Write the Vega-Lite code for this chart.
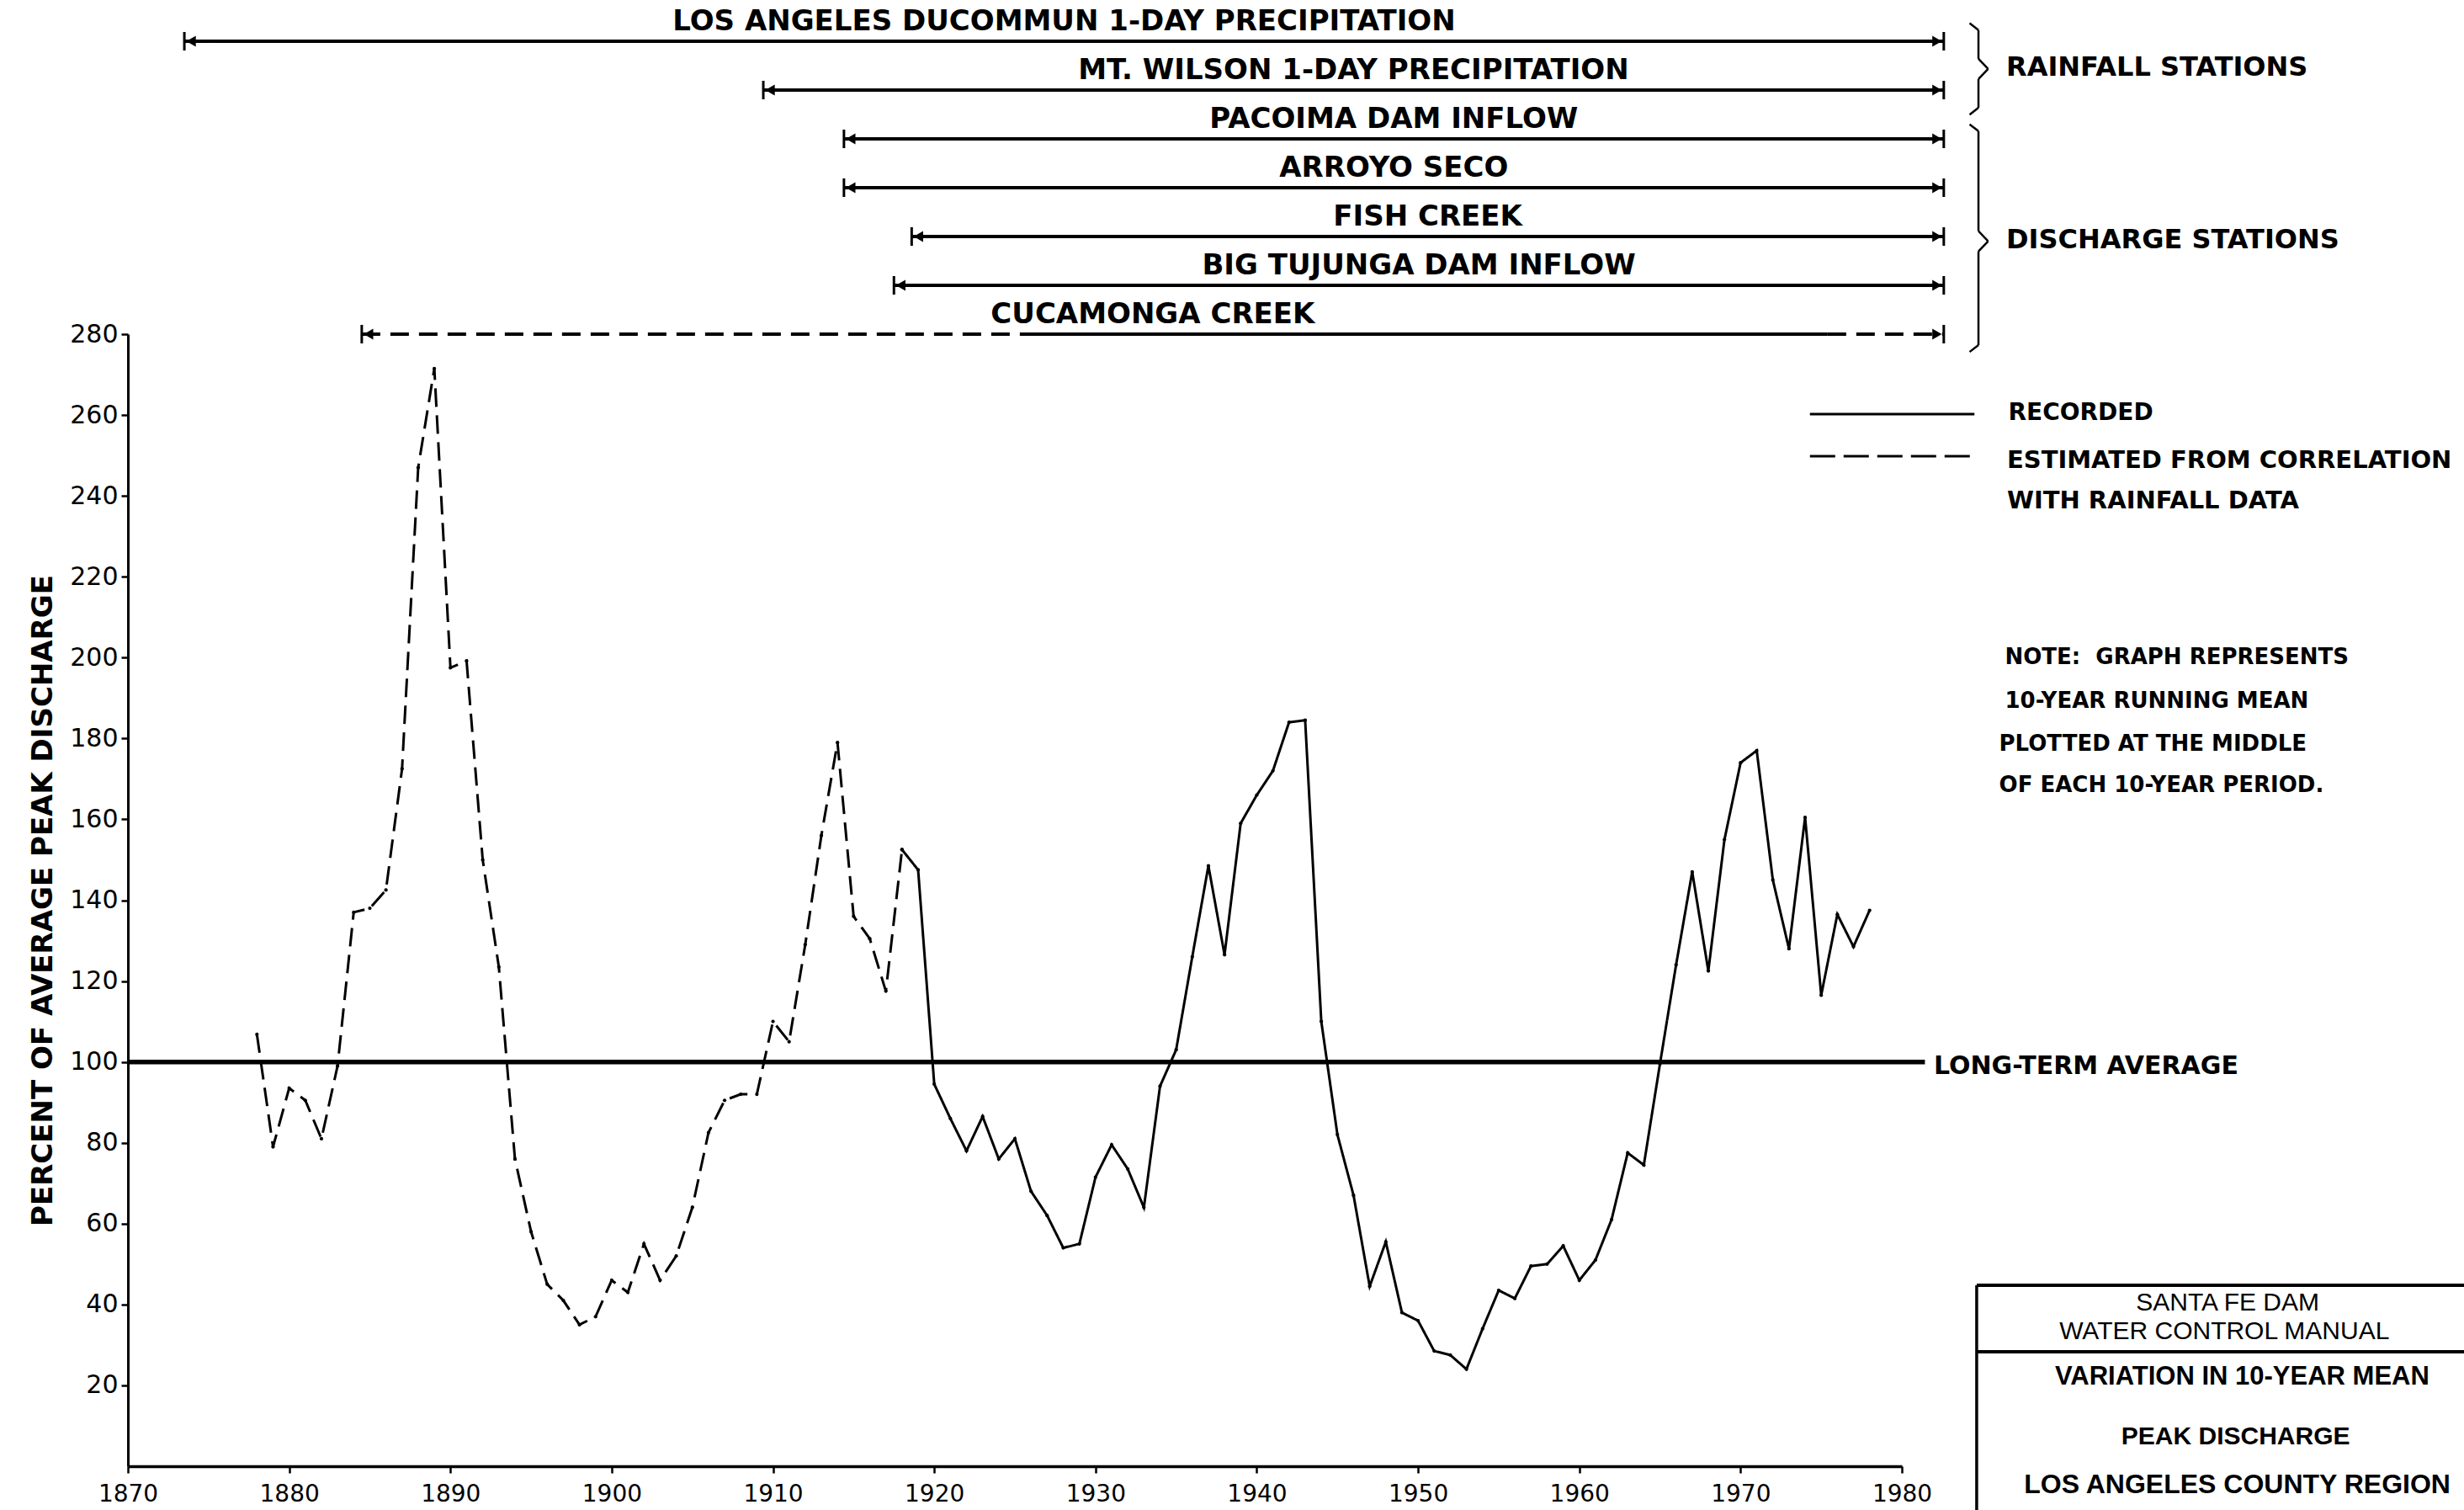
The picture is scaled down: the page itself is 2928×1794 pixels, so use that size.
{
  "$schema": "https://vega.github.io/schema/vega-lite/v6.json",
  "width": 2108,
  "height": 1345,
  "autosize": {"type": "none"},
  "padding": {"left": 152, "top": 397, "right": 668, "bottom": 52},
  "background": "white",
  "config": {
    "view": {"stroke": null},
    "font": "DejaVu Sans",
    "axis": {"labelColor": "black", "domainColor": "black", "tickColor": "black", "titleColor": "black", "grid": false}
  },
  "datasets": {
    "series": [
      {"year": 1878, "value": 106.8, "kind": "estimated"},
      {"year": 1879, "value": 79, "kind": "estimated"},
      {"year": 1880, "value": 93.5, "kind": "estimated"},
      {"year": 1881, "value": 90.5, "kind": "estimated"},
      {"year": 1882, "value": 81, "kind": "estimated"},
      {"year": 1883, "value": 99, "kind": "estimated"},
      {"year": 1884, "value": 137, "kind": "estimated"},
      {"year": 1885, "value": 138, "kind": "estimated"},
      {"year": 1886, "value": 142.5, "kind": "estimated"},
      {"year": 1887, "value": 172.5, "kind": "estimated"},
      {"year": 1888, "value": 247, "kind": "estimated"},
      {"year": 1889, "value": 271.5, "kind": "estimated"},
      {"year": 1890, "value": 197.5, "kind": "estimated"},
      {"year": 1891, "value": 199.2, "kind": "estimated"},
      {"year": 1892, "value": 150, "kind": "estimated"},
      {"year": 1893, "value": 123.5, "kind": "estimated"},
      {"year": 1894, "value": 76, "kind": "estimated"},
      {"year": 1895, "value": 58, "kind": "estimated"},
      {"year": 1896, "value": 45, "kind": "estimated"},
      {"year": 1897, "value": 41, "kind": "estimated"},
      {"year": 1898, "value": 35, "kind": "estimated"},
      {"year": 1899, "value": 37, "kind": "estimated"},
      {"year": 1900, "value": 46, "kind": "estimated"},
      {"year": 1901, "value": 43, "kind": "estimated"},
      {"year": 1902, "value": 55, "kind": "estimated"},
      {"year": 1903, "value": 46, "kind": "estimated"},
      {"year": 1904, "value": 52, "kind": "estimated"},
      {"year": 1905, "value": 64, "kind": "estimated"},
      {"year": 1906, "value": 82.5, "kind": "estimated"},
      {"year": 1907, "value": 90.5, "kind": "estimated"},
      {"year": 1908, "value": 92, "kind": "estimated"},
      {"year": 1909, "value": 92, "kind": "estimated"},
      {"year": 1910, "value": 110, "kind": "estimated"},
      {"year": 1911, "value": 105, "kind": "estimated"},
      {"year": 1912, "value": 129, "kind": "estimated"},
      {"year": 1913, "value": 156, "kind": "estimated"},
      {"year": 1914, "value": 179, "kind": "estimated"},
      {"year": 1915, "value": 136, "kind": "estimated"},
      {"year": 1916, "value": 130.5, "kind": "estimated"},
      {"year": 1917, "value": 117.5, "kind": "estimated"},
      {"year": 1918, "value": 152.5, "kind": "estimated"},
      {"year": 1918, "value": 152.5, "kind": "recorded"},
      {"year": 1919, "value": 147.5, "kind": "recorded"},
      {"year": 1920, "value": 94.5, "kind": "recorded"},
      {"year": 1921, "value": 86, "kind": "recorded"},
      {"year": 1922, "value": 78, "kind": "recorded"},
      {"year": 1923, "value": 86.5, "kind": "recorded"},
      {"year": 1924, "value": 76, "kind": "recorded"},
      {"year": 1925, "value": 81, "kind": "recorded"},
      {"year": 1926, "value": 68, "kind": "recorded"},
      {"year": 1927, "value": 62, "kind": "recorded"},
      {"year": 1928, "value": 54, "kind": "recorded"},
      {"year": 1929, "value": 55, "kind": "recorded"},
      {"year": 1930, "value": 71.5, "kind": "recorded"},
      {"year": 1931, "value": 79.5, "kind": "recorded"},
      {"year": 1932, "value": 73.5, "kind": "recorded"},
      {"year": 1933, "value": 64, "kind": "recorded"},
      {"year": 1934, "value": 94, "kind": "recorded"},
      {"year": 1935, "value": 103, "kind": "recorded"},
      {"year": 1936, "value": 126, "kind": "recorded"},
      {"year": 1937, "value": 148.5, "kind": "recorded"},
      {"year": 1938, "value": 126.5, "kind": "recorded"},
      {"year": 1939, "value": 159, "kind": "recorded"},
      {"year": 1940, "value": 166, "kind": "recorded"},
      {"year": 1941, "value": 172, "kind": "recorded"},
      {"year": 1942, "value": 184, "kind": "recorded"},
      {"year": 1943, "value": 184.5, "kind": "recorded"},
      {"year": 1944, "value": 110, "kind": "recorded"},
      {"year": 1945, "value": 82, "kind": "recorded"},
      {"year": 1946, "value": 67, "kind": "recorded"},
      {"year": 1947, "value": 44.5, "kind": "recorded"},
      {"year": 1948, "value": 55.5, "kind": "recorded"},
      {"year": 1949, "value": 38, "kind": "recorded"},
      {"year": 1950, "value": 36, "kind": "recorded"},
      {"year": 1951, "value": 28.5, "kind": "recorded"},
      {"year": 1952, "value": 27.5, "kind": "recorded"},
      {"year": 1953, "value": 24, "kind": "recorded"},
      {"year": 1954, "value": 34, "kind": "recorded"},
      {"year": 1955, "value": 43.5, "kind": "recorded"},
      {"year": 1956, "value": 41.5, "kind": "recorded"},
      {"year": 1957, "value": 49.5, "kind": "recorded"},
      {"year": 1958, "value": 50, "kind": "recorded"},
      {"year": 1959, "value": 54.5, "kind": "recorded"},
      {"year": 1960, "value": 46, "kind": "recorded"},
      {"year": 1961, "value": 51, "kind": "recorded"},
      {"year": 1962, "value": 61, "kind": "recorded"},
      {"year": 1963, "value": 77.5, "kind": "recorded"},
      {"year": 1964, "value": 74.5, "kind": "recorded"},
      {"year": 1965, "value": 99.5, "kind": "recorded"},
      {"year": 1966, "value": 124, "kind": "recorded"},
      {"year": 1967, "value": 147, "kind": "recorded"},
      {"year": 1968, "value": 122.5, "kind": "recorded"},
      {"year": 1969, "value": 155, "kind": "recorded"},
      {"year": 1970, "value": 174, "kind": "recorded"},
      {"year": 1971, "value": 177, "kind": "recorded"},
      {"year": 1972, "value": 145, "kind": "recorded"},
      {"year": 1973, "value": 128, "kind": "recorded"},
      {"year": 1974, "value": 160.5, "kind": "recorded"},
      {"year": 1975, "value": 116.5, "kind": "recorded"},
      {"year": 1976, "value": 136.5, "kind": "recorded"},
      {"year": 1977, "value": 128.5, "kind": "recorded"},
      {"year": 1978, "value": 137.5, "kind": "recorded"}
    ],
    "stations": [
      {"station": "LOS ANGELES DUCOMMUN 1-DAY PRECIPITATION", "start": 1873.5, "end": 1982.6},
      {"station": "MT. WILSON 1-DAY PRECIPITATION", "start": 1909.4, "end": 1982.6},
      {"station": "PACOIMA DAM INFLOW", "start": 1914.4, "end": 1982.6},
      {"station": "ARROYO SECO", "start": 1914.4, "end": 1982.6},
      {"station": "FISH CREEK", "start": 1918.6, "end": 1982.6},
      {"station": "BIG TUJUNGA DAM INFLOW", "start": 1917.5, "end": 1982.6},
      {"station": "CUCAMONGA CREEK", "start": 1884.5, "end": 1982.6}
    ],
    "segments": [
      {"station": "LOS ANGELES DUCOMMUN 1-DAY PRECIPITATION", "start": 1873.5, "end": 1982.6, "kind": "recorded"},
      {"station": "MT. WILSON 1-DAY PRECIPITATION", "start": 1909.4, "end": 1982.6, "kind": "recorded"},
      {"station": "PACOIMA DAM INFLOW", "start": 1914.4, "end": 1982.6, "kind": "recorded"},
      {"station": "ARROYO SECO", "start": 1914.4, "end": 1982.6, "kind": "recorded"},
      {"station": "FISH CREEK", "start": 1918.6, "end": 1982.6, "kind": "recorded"},
      {"station": "BIG TUJUNGA DAM INFLOW", "start": 1917.5, "end": 1982.6, "kind": "recorded"},
      {"station": "CUCAMONGA CREEK", "start": 1884.5, "end": 1926.2, "kind": "estimated"},
      {"station": "CUCAMONGA CREEK", "start": 1926.2, "end": 1975.4, "kind": "recorded"},
      {"station": "CUCAMONGA CREEK", "start": 1975.4, "end": 1982.6, "kind": "estimated"}
    ]
  },
  "resolve": {"scale": {"y": "independent", "strokeDash": "independent"}},
  "layer": [
    {
      "layer": [
        {
          "data": {"name": "series"},
          "mark": {"type": "line", "clip": false, "strokeWidth": 3, "color": "black"},
          "encoding": {
            "x": {"field": "year", "type": "quantitative", "scale": {"domain": [1870, 1980], "nice": false, "zero": false},
              "axis": {"values": [1870, 1880, 1890, 1900, 1910, 1920, 1930, 1940, 1950, 1960, 1970, 1980], "format": "d", "title": null, "labelFont": "DejaVu Sans", "labelFontSize": 28, "tickSize": 8, "tickWidth": 2.5, "domainWidth": 3.5, "labelPadding": 11, "labelFlush": false}},
            "y": {"field": "value", "type": "quantitative", "scale": {"domain": [0, 280], "nice": false, "zero": false},
              "axis": {"values": [20, 40, 60, 80, 100, 120, 140, 160, 180, 200, 220, 240, 260, 280], "format": "d", "title": "PERCENT OF AVERAGE PEAK DISCHARGE", "titleFont": "DejaVu Sans", "titleFontWeight": "bold", "titleFontSize": 34, "titlePadding": 14, "labelFont": "DejaVu Sans", "labelFontSize": 30, "tickSize": 8, "tickWidth": 2.5, "domainWidth": 3, "labelPadding": 4}},
            "strokeDash": {"field": "kind", "type": "nominal", "scale": {"domain": ["recorded", "estimated"], "range": [[1, 0], [22, 10]]}, "legend": null}
          }
        },
        {
          "data": {"name": "series"},
          "mark": {"type": "point", "clip": false, "filled": true, "size": 18, "color": "black", "opacity": 1},
          "encoding": {
            "x": {"field": "year", "type": "quantitative", "scale": {"domain": [1870, 1980], "nice": false, "zero": false}},
            "y": {"field": "value", "type": "quantitative", "scale": {"domain": [0, 280], "nice": false, "zero": false}}
          }
        },
        {
          "data": {"values": [{}]},
          "mark": {"type": "rule", "clip": false, "strokeWidth": 5.5, "color": "black"},
          "encoding": {
            "x": {"datum": 1870, "type": "quantitative", "scale": {"domain": [1870, 1980], "nice": false, "zero": false}},
            "x2": {"datum": 1981.43},
            "y": {"datum": 100, "type": "quantitative", "scale": {"domain": [0, 280], "nice": false, "zero": false}}
          }
        },
        {
          "data": {"values": [{}]},
          "mark": {"type": "text", "clip": false, "font": "DejaVu Sans", "fontWeight": "bold", "fontSize": 30, "align": "left", "baseline": "middle", "color": "black"},
          "encoding": {
            "x": {"datum": 1981.98, "type": "quantitative", "scale": {"domain": [1870, 1980], "nice": false, "zero": false}},
            "y": {"datum": 98.9, "type": "quantitative", "scale": {"domain": [0, 280], "nice": false, "zero": false}},
            "text": {"value": "LONG-TERM AVERAGE"}
          }
        },
        {
          "data": {"values": [{}]},
          "mark": {"type": "rule", "clip": false, "strokeWidth": 3, "color": "black"},
          "encoding": {
            "x": {"datum": 1974.3, "type": "quantitative", "scale": {"domain": [1870, 1980], "nice": false, "zero": false}},
            "x2": {"datum": 1984.5},
            "y": {"datum": 260.2, "type": "quantitative", "scale": {"domain": [0, 280], "nice": false, "zero": false}}
          }
        },
        {
          "data": {"values": [{}]},
          "mark": {"type": "rule", "clip": false, "strokeWidth": 3, "color": "black", "strokeDash": [30, 10]},
          "encoding": {
            "x": {"datum": 1974.3, "type": "quantitative", "scale": {"domain": [1870, 1980], "nice": false, "zero": false}},
            "x2": {"datum": 1984.6},
            "y": {"datum": 249.8, "type": "quantitative", "scale": {"domain": [0, 280], "nice": false, "zero": false}}
          }
        },
        {
          "data": {"values": [{}]},
          "mark": {"type": "text", "clip": false, "font": "DejaVu Sans", "fontWeight": "bold", "fontSize": 28, "align": "left", "baseline": "middle", "color": "black"},
          "encoding": {
            "x": {"datum": 1986.6, "type": "quantitative", "scale": {"domain": [1870, 1980], "nice": false, "zero": false}},
            "y": {"datum": 260.5, "type": "quantitative", "scale": {"domain": [0, 280], "nice": false, "zero": false}},
            "text": {"value": "RECORDED"}
          }
        },
        {
          "data": {"values": [{}]},
          "mark": {"type": "text", "clip": false, "font": "DejaVu Sans", "fontWeight": "bold", "fontSize": 29, "align": "left", "baseline": "middle", "color": "black"},
          "encoding": {
            "x": {"datum": 1986.52, "type": "quantitative", "scale": {"domain": [1870, 1980], "nice": false, "zero": false}},
            "y": {"datum": 248.7, "type": "quantitative", "scale": {"domain": [0, 280], "nice": false, "zero": false}},
            "text": {"value": "ESTIMATED FROM CORRELATION"}
          }
        },
        {
          "data": {"values": [{}]},
          "mark": {"type": "text", "clip": false, "font": "DejaVu Sans", "fontWeight": "bold", "fontSize": 29, "align": "left", "baseline": "middle", "color": "black"},
          "encoding": {
            "x": {"datum": 1986.52, "type": "quantitative", "scale": {"domain": [1870, 1980], "nice": false, "zero": false}},
            "y": {"datum": 238.8, "type": "quantitative", "scale": {"domain": [0, 280], "nice": false, "zero": false}},
            "text": {"value": "WITH RAINFALL DATA"}
          }
        },
        {
          "data": {"values": [{}]},
          "mark": {"type": "text", "clip": false, "font": "DejaVu Sans", "fontWeight": "bold", "fontSize": 26, "align": "left", "baseline": "middle", "color": "black"},
          "encoding": {
            "x": {"datum": 1986.39, "type": "quantitative", "scale": {"domain": [1870, 1980], "nice": false, "zero": false}},
            "y": {"datum": 200.1, "type": "quantitative", "scale": {"domain": [0, 280], "nice": false, "zero": false}},
            "text": {"value": "NOTE:\u00a0\u00a0GRAPH REPRESENTS"}
          }
        },
        {
          "data": {"values": [{}]},
          "mark": {"type": "text", "clip": false, "font": "DejaVu Sans", "fontWeight": "bold", "fontSize": 26, "align": "left", "baseline": "middle", "color": "black"},
          "encoding": {
            "x": {"datum": 1986.39, "type": "quantitative", "scale": {"domain": [1870, 1980], "nice": false, "zero": false}},
            "y": {"datum": 189.2, "type": "quantitative", "scale": {"domain": [0, 280], "nice": false, "zero": false}},
            "text": {"value": "10-YEAR RUNNING MEAN"}
          }
        },
        {
          "data": {"values": [{}]},
          "mark": {"type": "text", "clip": false, "font": "DejaVu Sans", "fontWeight": "bold", "fontSize": 26, "align": "left", "baseline": "middle", "color": "black"},
          "encoding": {
            "x": {"datum": 1986.03, "type": "quantitative", "scale": {"domain": [1870, 1980], "nice": false, "zero": false}},
            "y": {"datum": 178.6, "type": "quantitative", "scale": {"domain": [0, 280], "nice": false, "zero": false}},
            "text": {"value": "PLOTTED AT THE MIDDLE"}
          }
        },
        {
          "data": {"values": [{}]},
          "mark": {"type": "text", "clip": false, "font": "DejaVu Sans", "fontWeight": "bold", "fontSize": 26, "align": "left", "baseline": "middle", "color": "black"},
          "encoding": {
            "x": {"datum": 1986.03, "type": "quantitative", "scale": {"domain": [1870, 1980], "nice": false, "zero": false}},
            "y": {"datum": 168.5, "type": "quantitative", "scale": {"domain": [0, 280], "nice": false, "zero": false}},
            "text": {"value": "OF EACH 10-YEAR PERIOD."}
          }
        },
        {
          "data": {"values": [{}]},
          "mark": {"type": "rule", "clip": false, "strokeWidth": 4, "color": "black"},
          "encoding": {
            "x": {"datum": 1984.64, "type": "quantitative", "scale": {"domain": [1870, 1980], "nice": false, "zero": false}},
            "x2": {"datum": 2020},
            "y": {"datum": 44.75, "type": "quantitative", "scale": {"domain": [0, 280], "nice": false, "zero": false}}
          }
        },
        {
          "data": {"values": [{}]},
          "mark": {"type": "rule", "clip": false, "strokeWidth": 4, "color": "black"},
          "encoding": {
            "x": {"datum": 1984.64, "type": "quantitative", "scale": {"domain": [1870, 1980], "nice": false, "zero": false}},
            "x2": {"datum": 2020},
            "y": {"datum": 28.3, "type": "quantitative", "scale": {"domain": [0, 280], "nice": false, "zero": false}}
          }
        },
        {
          "data": {"values": [{}]},
          "mark": {"type": "rule", "clip": false, "strokeWidth": 3.5, "color": "black"},
          "encoding": {
            "x": {"datum": 1984.64, "type": "quantitative", "scale": {"domain": [1870, 1980], "nice": false, "zero": false}},
            "y": {"datum": 44.75, "type": "quantitative", "scale": {"domain": [0, 280], "nice": false, "zero": false}},
            "y2": {"datum": -12}
          }
        },
        {
          "data": {"values": [{}]},
          "mark": {"type": "text", "clip": false, "font": "Liberation Sans", "fontSize": 30, "align": "center", "baseline": "middle", "color": "black"},
          "encoding": {
            "x": {"datum": 2000.2, "type": "quantitative", "scale": {"domain": [1870, 1980], "nice": false, "zero": false}},
            "y": {"datum": 40.4, "type": "quantitative", "scale": {"domain": [0, 280], "nice": false, "zero": false}},
            "text": {"value": "SANTA FE DAM"}
          }
        },
        {
          "data": {"values": [{}]},
          "mark": {"type": "text", "clip": false, "font": "Liberation Sans", "fontSize": 30, "align": "center", "baseline": "middle", "color": "black"},
          "encoding": {
            "x": {"datum": 2000.0, "type": "quantitative", "scale": {"domain": [1870, 1980], "nice": false, "zero": false}},
            "y": {"datum": 33.3, "type": "quantitative", "scale": {"domain": [0, 280], "nice": false, "zero": false}},
            "text": {"value": "WATER CONTROL MANUAL"}
          }
        },
        {
          "data": {"values": [{}]},
          "mark": {"type": "text", "clip": false, "font": "Liberation Sans", "fontWeight": "bold", "fontSize": 31, "align": "center", "baseline": "middle", "color": "black"},
          "encoding": {
            "x": {"datum": 2001.1, "type": "quantitative", "scale": {"domain": [1870, 1980], "nice": false, "zero": false}},
            "y": {"datum": 22.1, "type": "quantitative", "scale": {"domain": [0, 280], "nice": false, "zero": false}},
            "text": {"value": "VARIATION IN 10-YEAR MEAN"}
          }
        },
        {
          "data": {"values": [{}]},
          "mark": {"type": "text", "clip": false, "font": "Liberation Sans", "fontWeight": "bold", "fontSize": 30, "align": "center", "baseline": "middle", "color": "black"},
          "encoding": {
            "x": {"datum": 2000.7, "type": "quantitative", "scale": {"domain": [1870, 1980], "nice": false, "zero": false}},
            "y": {"datum": 7.2, "type": "quantitative", "scale": {"domain": [0, 280], "nice": false, "zero": false}},
            "text": {"value": "PEAK DISCHARGE"}
          }
        },
        {
          "data": {"values": [{}]},
          "mark": {"type": "text", "clip": false, "font": "Liberation Sans", "fontWeight": "bold", "fontSize": 32, "align": "center", "baseline": "middle", "color": "black"},
          "encoding": {
            "x": {"datum": 2000.8, "type": "quantitative", "scale": {"domain": [1870, 1980], "nice": false, "zero": false}},
            "y": {"datum": -4.6, "type": "quantitative", "scale": {"domain": [0, 280], "nice": false, "zero": false}},
            "text": {"value": "LOS ANGELES COUNTY REGION"}
          }
        },
        {
          "data": {"values": [{}]},
          "mark": {"type": "text", "clip": false, "font": "DejaVu Sans", "fontWeight": "bold", "fontSize": 32, "align": "left", "baseline": "middle", "color": "black"},
          "encoding": {
            "x": {"datum": 1986.47, "type": "quantitative", "scale": {"domain": [1870, 1980], "nice": false, "zero": false}},
            "y": {"datum": 345.9, "type": "quantitative", "scale": {"domain": [0, 280], "nice": false, "zero": false}},
            "text": {"value": "RAINFALL STATIONS"}
          }
        },
        {
          "data": {"values": [{}]},
          "mark": {"type": "text", "clip": false, "font": "DejaVu Sans", "fontWeight": "bold", "fontSize": 32, "align": "left", "baseline": "middle", "color": "black"},
          "encoding": {
            "x": {"datum": 1986.47, "type": "quantitative", "scale": {"domain": [1870, 1980], "nice": false, "zero": false}},
            "y": {"datum": 303.3, "type": "quantitative", "scale": {"domain": [0, 280], "nice": false, "zero": false}},
            "text": {"value": "DISCHARGE STATIONS"}
          }
        },
        {"data": {"values": [{}]}, "mark": {"type": "rule", "clip": false, "strokeWidth": 2.5, "color": "black"},
          "encoding": {"x": {"datum": 1984.2, "type": "quantitative", "scale": {"domain": [1870, 1980], "nice": false, "zero": false}}, "x2": {"datum": 1984.75},
            "y": {"datum": 356.9, "type": "quantitative", "scale": {"domain": [0, 280], "nice": false, "zero": false}}, "y2": {"datum": 355.2}}},
        {"data": {"values": [{}]}, "mark": {"type": "rule", "clip": false, "strokeWidth": 2.5, "color": "black"},
          "encoding": {"x": {"datum": 1984.75, "type": "quantitative", "scale": {"domain": [1870, 1980], "nice": false, "zero": false}},
            "y": {"datum": 355.2, "type": "quantitative", "scale": {"domain": [0, 280], "nice": false, "zero": false}}, "y2": {"datum": 348.1}}},
        {"data": {"values": [{}]}, "mark": {"type": "rule", "clip": false, "strokeWidth": 2.5, "color": "black"},
          "encoding": {"x": {"datum": 1984.75, "type": "quantitative", "scale": {"domain": [1870, 1980], "nice": false, "zero": false}}, "x2": {"datum": 1985.35},
            "y": {"datum": 348.1, "type": "quantitative", "scale": {"domain": [0, 280], "nice": false, "zero": false}}, "y2": {"datum": 345.6}}},
        {"data": {"values": [{}]}, "mark": {"type": "rule", "clip": false, "strokeWidth": 2.5, "color": "black"},
          "encoding": {"x": {"datum": 1985.35, "type": "quantitative", "scale": {"domain": [1870, 1980], "nice": false, "zero": false}}, "x2": {"datum": 1984.75},
            "y": {"datum": 345.6, "type": "quantitative", "scale": {"domain": [0, 280], "nice": false, "zero": false}}, "y2": {"datum": 343.1}}},
        {"data": {"values": [{}]}, "mark": {"type": "rule", "clip": false, "strokeWidth": 2.5, "color": "black"},
          "encoding": {"x": {"datum": 1984.75, "type": "quantitative", "scale": {"domain": [1870, 1980], "nice": false, "zero": false}},
            "y": {"datum": 343.1, "type": "quantitative", "scale": {"domain": [0, 280], "nice": false, "zero": false}}, "y2": {"datum": 336.0}}},
        {"data": {"values": [{}]}, "mark": {"type": "rule", "clip": false, "strokeWidth": 2.5, "color": "black"},
          "encoding": {"x": {"datum": 1984.75, "type": "quantitative", "scale": {"domain": [1870, 1980], "nice": false, "zero": false}}, "x2": {"datum": 1984.2},
            "y": {"datum": 336.0, "type": "quantitative", "scale": {"domain": [0, 280], "nice": false, "zero": false}}, "y2": {"datum": 334.3}}},
        {"data": {"values": [{}]}, "mark": {"type": "rule", "clip": false, "strokeWidth": 2.5, "color": "black"},
          "encoding": {"x": {"datum": 1984.2, "type": "quantitative", "scale": {"domain": [1870, 1980], "nice": false, "zero": false}}, "x2": {"datum": 1984.75},
            "y": {"datum": 331.9, "type": "quantitative", "scale": {"domain": [0, 280], "nice": false, "zero": false}}, "y2": {"datum": 330.2}}},
        {"data": {"values": [{}]}, "mark": {"type": "rule", "clip": false, "strokeWidth": 2.5, "color": "black"},
          "encoding": {"x": {"datum": 1984.75, "type": "quantitative", "scale": {"domain": [1870, 1980], "nice": false, "zero": false}},
            "y": {"datum": 330.2, "type": "quantitative", "scale": {"domain": [0, 280], "nice": false, "zero": false}}, "y2": {"datum": 305.5}}},
        {"data": {"values": [{}]}, "mark": {"type": "rule", "clip": false, "strokeWidth": 2.5, "color": "black"},
          "encoding": {"x": {"datum": 1984.75, "type": "quantitative", "scale": {"domain": [1870, 1980], "nice": false, "zero": false}}, "x2": {"datum": 1985.35},
            "y": {"datum": 305.5, "type": "quantitative", "scale": {"domain": [0, 280], "nice": false, "zero": false}}, "y2": {"datum": 303.0}}},
        {"data": {"values": [{}]}, "mark": {"type": "rule", "clip": false, "strokeWidth": 2.5, "color": "black"},
          "encoding": {"x": {"datum": 1985.35, "type": "quantitative", "scale": {"domain": [1870, 1980], "nice": false, "zero": false}}, "x2": {"datum": 1984.75},
            "y": {"datum": 303.0, "type": "quantitative", "scale": {"domain": [0, 280], "nice": false, "zero": false}}, "y2": {"datum": 300.5}}},
        {"data": {"values": [{}]}, "mark": {"type": "rule", "clip": false, "strokeWidth": 2.5, "color": "black"},
          "encoding": {"x": {"datum": 1984.75, "type": "quantitative", "scale": {"domain": [1870, 1980], "nice": false, "zero": false}},
            "y": {"datum": 300.5, "type": "quantitative", "scale": {"domain": [0, 280], "nice": false, "zero": false}}, "y2": {"datum": 277.3}}},
        {"data": {"values": [{}]}, "mark": {"type": "rule", "clip": false, "strokeWidth": 2.5, "color": "black"},
          "encoding": {"x": {"datum": 1984.75, "type": "quantitative", "scale": {"domain": [1870, 1980], "nice": false, "zero": false}}, "x2": {"datum": 1984.2},
            "y": {"datum": 277.3, "type": "quantitative", "scale": {"domain": [0, 280], "nice": false, "zero": false}}, "y2": {"datum": 275.6}}}
      ]
    },
    {
      "layer": [
        {
          "data": {"name": "segments"},
          "mark": {"type": "rule", "clip": false, "strokeWidth": 4, "color": "black"},
          "encoding": {
            "x": {"field": "start", "type": "quantitative", "scale": {"domain": [1870, 1980], "nice": false, "zero": false}},
            "x2": {"field": "end"},
            "y": {"field": "station", "type": "nominal", "axis": null, "scale": {"type": "point", "padding": 0, "range": [-348, 0], "domain": ["LOS ANGELES DUCOMMUN 1-DAY PRECIPITATION", "MT. WILSON 1-DAY PRECIPITATION", "PACOIMA DAM INFLOW", "ARROYO SECO", "FISH CREEK", "BIG TUJUNGA DAM INFLOW", "CUCAMONGA CREEK"]}},
            "strokeDash": {"field": "kind", "type": "nominal", "scale": {"domain": ["recorded", "estimated"], "range": [[1, 0], [22, 12]]}, "legend": null}
          }
        },
        {
          "data": {"name": "stations"},
          "mark": {"type": "tick", "clip": false, "thickness": 3, "size": 22, "color": "black", "opacity": 1},
          "encoding": {
            "x": {"field": "start", "type": "quantitative", "scale": {"domain": [1870, 1980], "nice": false, "zero": false}},
            "y": {"field": "station", "type": "nominal", "axis": null}
          }
        },
        {
          "data": {"name": "stations"},
          "mark": {"type": "tick", "clip": false, "thickness": 3, "size": 22, "color": "black", "opacity": 1},
          "encoding": {
            "x": {"field": "end", "type": "quantitative", "scale": {"domain": [1870, 1980], "nice": false, "zero": false}},
            "y": {"field": "station", "type": "nominal", "axis": null}
          }
        },
        {
          "data": {"name": "stations"},
          "mark": {"type": "point", "clip": false, "shape": "triangle-left", "filled": true, "size": 170, "xOffset": 8, "color": "black", "opacity": 1},
          "encoding": {
            "x": {"field": "start", "type": "quantitative", "scale": {"domain": [1870, 1980], "nice": false, "zero": false}},
            "y": {"field": "station", "type": "nominal", "axis": null}
          }
        },
        {
          "data": {"name": "stations"},
          "mark": {"type": "point", "clip": false, "shape": "triangle-right", "filled": true, "size": 170, "xOffset": -8, "color": "black", "opacity": 1},
          "encoding": {
            "x": {"field": "end", "type": "quantitative", "scale": {"domain": [1870, 1980], "nice": false, "zero": false}},
            "y": {"field": "station", "type": "nominal", "axis": null}
          }
        },
        {
          "data": {"name": "stations"},
          "transform": [
            {"fold": ["start", "end"], "as": ["which", "yr"]},
            {"aggregate": [{"op": "mean", "field": "yr", "as": "mid"}], "groupby": ["station"]}
          ],
          "mark": {"type": "text", "clip": false, "font": "DejaVu Sans", "fontWeight": "bold", "fontSize": 34, "align": "center", "baseline": "middle", "dy": -23, "color": "black"},
          "encoding": {
            "x": {"field": "mid", "type": "quantitative", "scale": {"domain": [1870, 1980], "nice": false, "zero": false}},
            "y": {"field": "station", "type": "nominal", "axis": null},
            "text": {"field": "station"}
          }
        }
      ]
    }
  ]
}
